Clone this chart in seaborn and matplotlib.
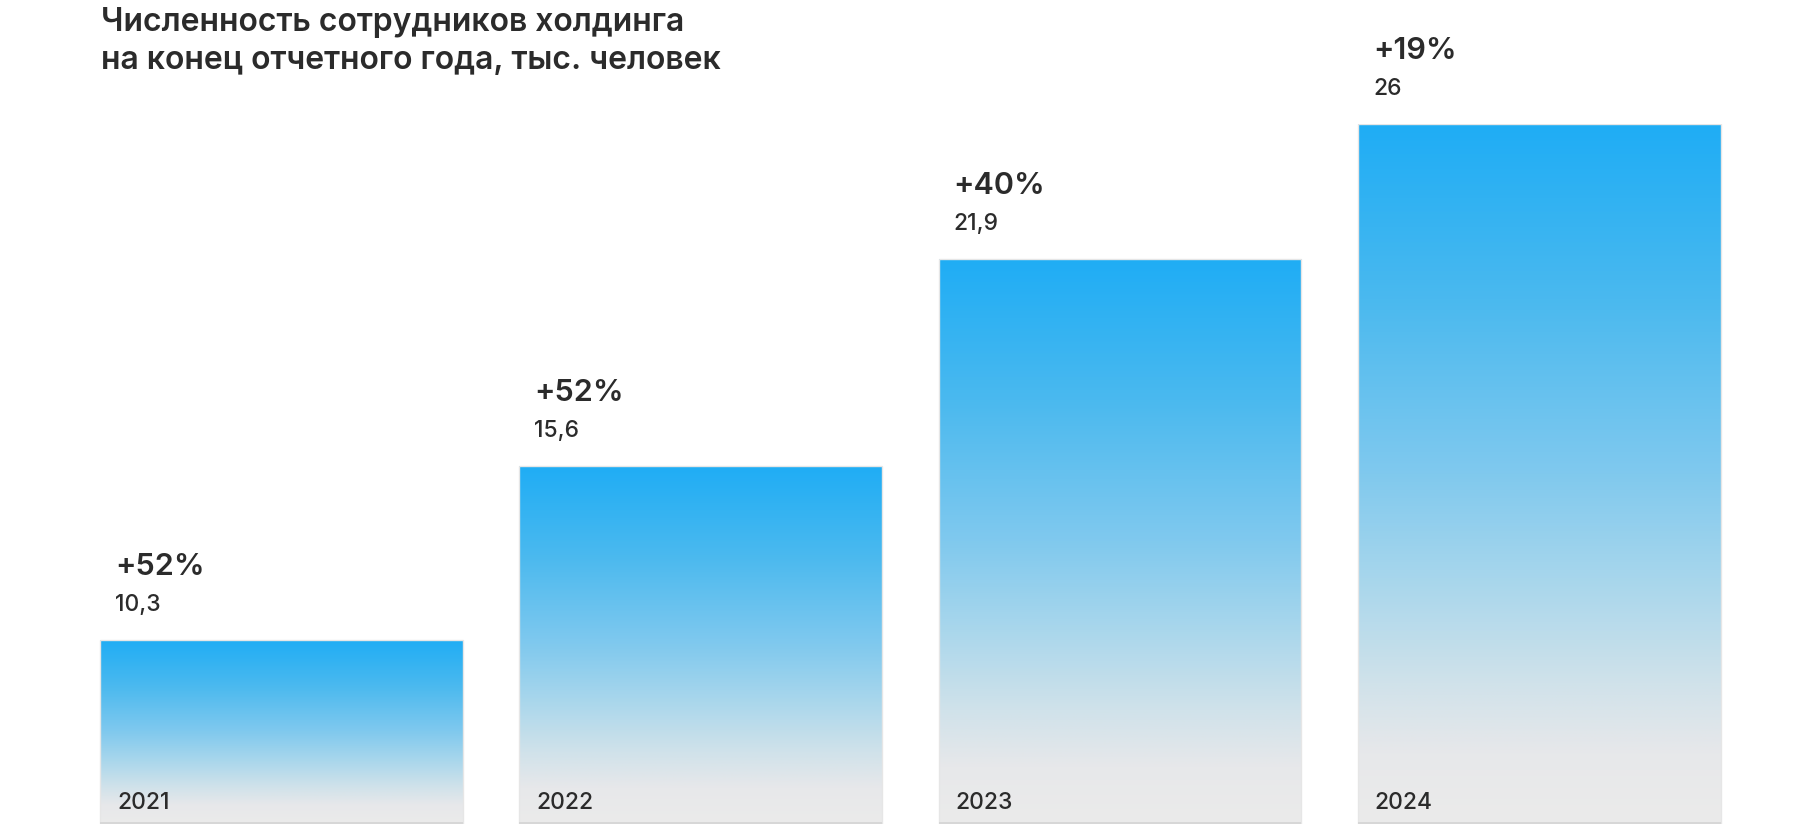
import numpy as np
import pandas as pd
import matplotlib.pyplot as plt
import seaborn as sns
from matplotlib.colors import LinearSegmentedColormap


years = ["2021", "2022", "2023", "2024"]
headcount = [10.3, 15.6, 21.9, 26.0]
value_labels = ["10,3", "15,6", "21,9", "26"]
growth_labels = ["+52%", "+52%", "+40%", "+19%"]
title_lines = [
    "Численность сотрудников холдинга",
    "на конец отчетного года, тыс. человек",
]

text_color = "#2b2b2b"
# blue at the top of each bar fading to light grey at the bottom
bar_cmap = LinearSegmentedColormap.from_list(
    "bar_fade",
    [
        (0.0, "#1fadf5"),
        (0.25, "#4ab9ef"),
        (0.5, "#80c9ee"),
        (0.65, "#a7d6ec"),
        (0.8, "#d0e2ea"),
        (0.9, "#e7e8ea"),
        (1.0, "#ebebeb"),
    ],
)

sns.set_theme(style="white")
plt.rcParams["font.family"] = ["Inter", "DejaVu Sans"]

df = pd.DataFrame({"year": years, "headcount": headcount})

fig = plt.figure(figsize=(18.08, 8.32), dpi=100)
ax = fig.add_axes([0.0398, 0.0096, 0.9275, 0.8413])
sns.barplot(data=df, x="year", y="headcount", width=0.865, color="white", ax=ax)

y_floor = 4.7
ax.set_xlim(-0.5, 3.5)
ax.set_ylim(y_floor, 26)
ax.axis("off")

gradient = np.linspace(0, 1, 256).reshape(-1, 1)
for i, patch in enumerate(ax.patches):
    x0 = patch.get_x()
    x1 = x0 + patch.get_width()
    top = patch.get_height()
    patch.set_facecolor("none")
    patch.set_edgecolor("#e6e6e6")
    patch.set_linewidth(1)
    im = ax.imshow(
        gradient,
        cmap=bar_cmap,
        extent=(x0, x1, y_floor, top),
        origin="upper",
        aspect="auto",
        zorder=1,
    )
    im.set_clip_path(patch)
    patch.set_zorder(2)
    ax.hlines(y_floor + 0.02, x0, x1, color="#d4d4d4", linewidth=1.2, zorder=3)

    ax.annotate(growth_labels[i], xy=(x0, top), xytext=(10.8, 46.8),
                textcoords="offset points", fontsize=22, fontweight="semibold",
                color=text_color, va="baseline", ha="left", annotation_clip=False)
    ax.annotate(value_labels[i], xy=(x0, top), xytext=(10.8, 20.9),
                textcoords="offset points", fontsize=16.5, fontweight="medium",
                color=text_color, va="baseline", ha="left", annotation_clip=False)
    ax.annotate(years[i], xy=(x0, y_floor), xytext=(12, 11),
                textcoords="offset points", fontsize=16.5, fontweight="medium",
                color=text_color, va="baseline", ha="left", annotation_clip=False)

ax.set_xlim(-0.5, 3.5)
ax.set_ylim(y_floor, 26)

fig.text(101 / 1808, 1 - 31 / 832, title_lines[0], fontsize=23,
         fontweight="semibold", color=text_color, va="baseline", ha="left")
fig.text(101 / 1808, 1 - 69 / 832, title_lines[1], fontsize=23,
         fontweight="semibold", color=text_color, va="baseline", ha="left")

fig.savefig("out.png", dpi=100, facecolor="white")
